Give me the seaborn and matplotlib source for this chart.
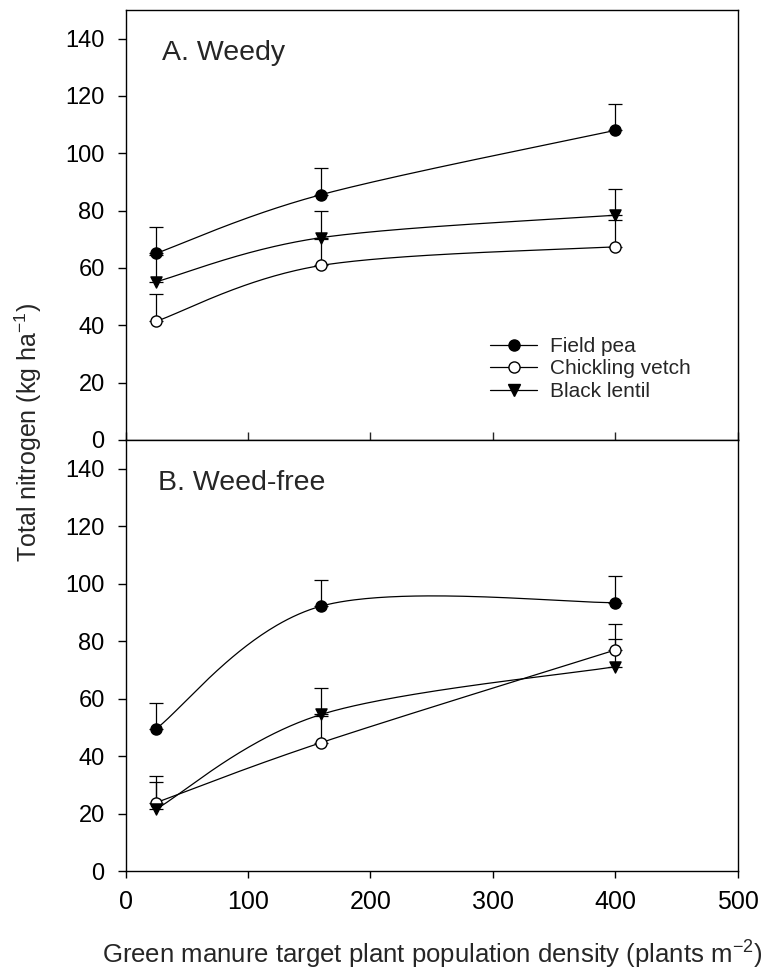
import numpy as np
import matplotlib
matplotlib.use("Agg")
import matplotlib.pyplot as plt
from matplotlib.lines import Line2D
import seaborn as sns

# Target plant population densities (plants m-2)
density = [25, 160, 400]
species = ["Field pea", "Chickling vetch", "Black lentil"]

# A. Weedy plots: total nitrogen (kg ha-1) and standard errors
weedy_field_pea = [65.1, 85.6, 108.0]
weedy_field_pea_se = [9.1, 9.3, 9.2]
weedy_chickling = [41.4, 60.9, 67.4]
weedy_chickling_se = [9.4, 9.2, 9.5]
weedy_lentil = [55.2, 70.6, 78.4]
weedy_lentil_se = [9.2, 9.3, 9.2]

# B. Weed-free plots
free_field_pea = [49.5, 92.2, 93.4]
free_field_pea_se = [9.1, 9.2, 9.3]
free_chickling = [23.8, 44.7, 76.9]
free_chickling_se = [9.3, 9.3, 9.2]
free_lentil = [21.5, 54.5, 71.1]
free_lentil_se = [9.5, 9.3, 9.5]

x_ticks = [0, 100, 200, 300, 400, 500]
y_ticks = [0, 20, 40, 60, 80, 100, 120, 140]

sns.set_style("ticks")
plt.rcParams["font.family"] = ["Liberation Sans", "DejaVu Sans"]
plt.rcParams["mathtext.default"] = "regular"

# marker style per species: (marker, face colour)
styles = {
    "Field pea": ("o", "black"),
    "Chickling vetch": ("o", "white"),
    "Black lentil": ("v", "black"),
}


def catmull_rom(xs, ys, n=80):
    """Smooth curve passing through every point (uniform Catmull-Rom)."""
    p = np.column_stack([xs, ys]).astype(float)
    p = np.vstack([p[0], p, p[-1]])
    t = np.linspace(0, 1, n)[:, None]
    h00 = 2 * t**3 - 3 * t**2 + 1
    h10 = t**3 - 2 * t**2 + t
    h01 = -2 * t**3 + 3 * t**2
    h11 = t**3 - t**2
    parts = []
    for i in range(1, len(p) - 2):
        p0, p1, p2, p3 = p[i - 1], p[i], p[i + 1], p[i + 2]
        m1 = (p2 - p0) / 2
        m2 = (p3 - p1) / 2
        seg = h00 * p1 + h10 * m1 + h01 * p2 + h11 * m2
        parts.append(seg if i == 1 else seg[1:])
    return np.vstack(parts)


W, H = 765, 973
fig = plt.figure(figsize=(W / 100, H / 100), dpi=100)
left, right = 125.5, 737.5
ax_top = fig.add_axes([left / W, 1 - 440 / H, (right - left) / W, 430 / H])
ax_bot = fig.add_axes([left / W, 1 - 871 / H, (right - left) / W, 431 / H])

panels = [
    (ax_top, "A. Weedy",
     [(weedy_field_pea, weedy_field_pea_se),
      (weedy_chickling, weedy_chickling_se),
      (weedy_lentil, weedy_lentil_se)]),
    (ax_bot, "B. Weed-free",
     [(free_field_pea, free_field_pea_se),
      (free_chickling, free_chickling_se),
      (free_lentil, free_lentil_se)]),
]

lw = 0.9
for ax, title, series in panels:
    for name, (vals, se) in zip(species, series):
        curve = catmull_rom(density, vals)
        sns.lineplot(x=curve[:, 0], y=curve[:, 1], ax=ax, color="black",
                     linewidth=lw, sort=False, estimator=None, zorder=2)
        ax.errorbar(density, vals, yerr=[np.zeros(len(se)), se], fmt="none",
                    ecolor="black", elinewidth=lw, capsize=5, capthick=lw,
                    zorder=3)
        marker, face = styles[name]
        sns.scatterplot(x=density, y=vals, ax=ax, marker=marker, s=64,
                        color=face, edgecolor="black", linewidth=1.0,
                        zorder=4, legend=False)

    ax.set_xlim(0, 500)
    ax.set_ylim(0, 150)
    ax.set_xticks(x_ticks)
    ax.set_yticks(y_ticks)
    ax.set_xlabel("")
    ax.set_ylabel("")
    for s in ax.spines.values():
        s.set_visible(True)
        s.set_linewidth(1.0)
        s.set_color("black")
    ax.tick_params(axis="y", direction="out", length=6, width=1.0,
                   labelsize=17, pad=9, colors="black")

ax_top.text((161.7 - left) / (right - left), (440 - 60) / 430, "A. Weedy",
            transform=ax_top.transAxes, fontsize=20.5, ha="left",
            va="baseline")
ax_bot.text((158.5 - left) / (right - left), (871 - 490) / 431,
            "B. Weed-free", transform=ax_bot.transAxes, fontsize=20.5,
            ha="left", va="baseline")

ax_top.tick_params(axis="x", direction="in", length=6, width=1.0,
                   labelbottom=False)
ax_bot.tick_params(axis="x", direction="out", length=5, width=1.0,
                   labelsize=18, pad=9, colors="black")

handles = [
    Line2D([], [], color="black", linewidth=lw, marker=styles[n][0],
           markersize=8, markerfacecolor=styles[n][1],
           markeredgecolor="black", markeredgewidth=1.0)
    for n in species
]
ax_top.legend(handles, species, loc="center left",
              bbox_to_anchor=((490 - left) / (right - left), (440 - 369) / 430),
              frameon=False, fontsize=15, handlelength=2.26,
              handletextpad=0.6, labelspacing=0.17, borderpad=0,
              borderaxespad=0)

fig.text(28 / W, 1 - 432 / H, "Total nitrogen (kg ha$^{-1}$)",
         rotation=90, ha="center", va="center", fontsize=18)
fig.text(432 / W, 1 - 964 / H,
         "Green manure target plant population density (plants m$^{-2}$)",
         ha="center", va="baseline", fontsize=18.5)

fig.savefig("out.png", dpi=100)
